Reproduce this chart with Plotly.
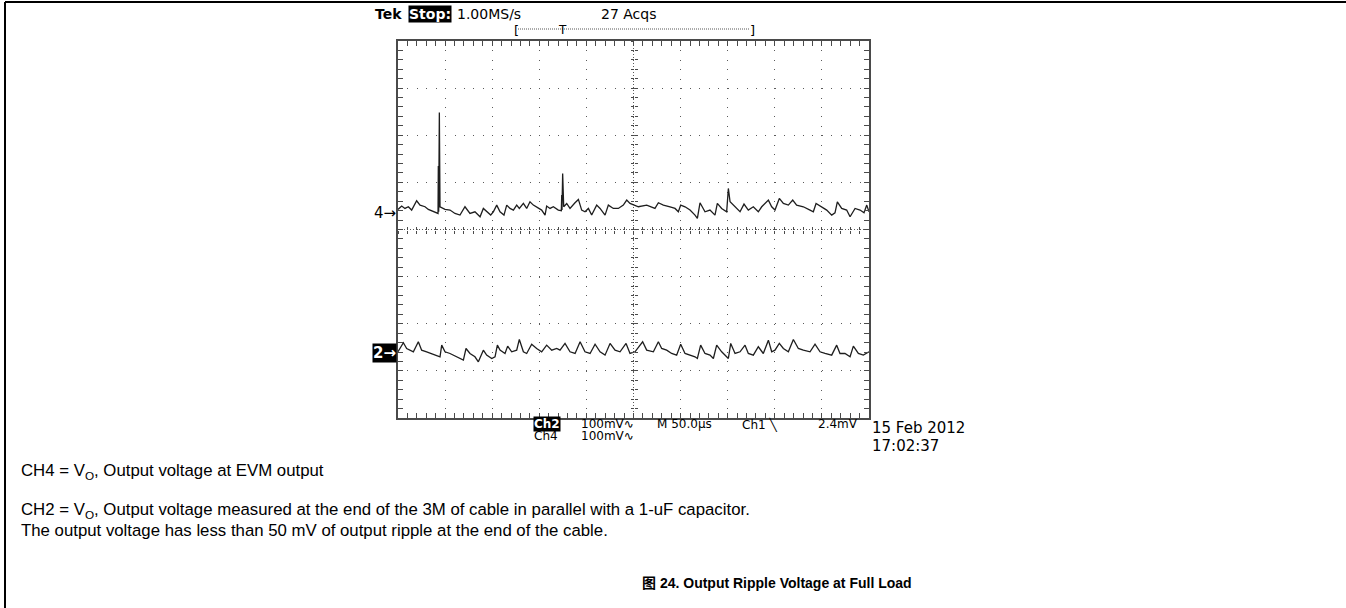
import plotly.graph_objects as go

# ---------------- data (time in µs, voltage in mV; 50 µs/div, 100 mV/div) ----------------
t_ch4 = [0.0, 3.9, 7.4, 11.0, 14.5, 19.8, 23.4, 28.7, 32.2, 35.8, 41.1, 42.5, 42.8, 43.2, 43.9, 44.6,
         49.9, 55.2, 60.5, 65.8, 71.1, 73.6, 76.4, 81.7, 87.1, 90.6, 94.1, 98.4, 101.2, 104.8, 108.3,
         112.5, 115.4, 118.9, 122.5, 126.0, 128.8, 133.1, 136.6, 140.1, 143.7, 147.2, 152.5, 156.1,
         157.8, 161.4, 164.9, 170.2, 173.4, 173.8, 174.1, 174.8, 175.9, 179.1, 182.6, 187.9, 191.5,
         195.0, 198.5, 202.1, 205.6, 210.9, 214.5, 219.8, 223.3, 228.6, 233.9, 239.2, 242.8, 246.3,
         249.9, 255.2, 264.0, 272.8, 276.4, 281.7, 288.8, 294.1, 297.6, 300.1, 304.7, 310.0, 315.3,
         317.8, 320.6, 325.9, 331.2, 336.5, 339.0, 343.6, 348.9, 350.7, 352.5, 357.8, 363.1, 367.3,
         371.9, 377.2, 382.5, 386.1, 393.2, 396.7, 400.2, 404.8, 409.1, 414.4, 419.0, 423.2, 430.3,
         437.4, 440.9, 443.8, 449.8, 455.1, 460.4, 463.9, 466.4, 471.0, 476.3, 479.9, 485.2, 490.5,
         494.7, 497.6, 500.0]
v_ch4 = [42.6, 49.7, 44.7, 48.3, 41.2, 61.0, 51.8, 48.3, 42.6, 39.8, 34.1, 34.1, 134.6, 37.6, 248.5, 48.3,
         42.6, 41.2, 34.1, 30.6, 48.3, 41.2, 34.1, 37.6, 27.0, 44.7, 37.6, 30.6, 37.6, 51.8, 37.6,
         30.6, 51.8, 44.7, 41.2, 51.8, 44.7, 55.3, 44.7, 58.9, 51.8, 48.3, 41.2, 30.6,
         49.7, 44.7, 48.3, 41.2, 39.8, 73.0, 41.2, 119.0, 48.3, 55.3, 44.7, 56.8, 63.8,
         41.2, 37.6, 44.7, 30.6, 51.8, 44.7, 30.6, 51.8, 44.7, 44.7, 51.8, 62.4, 55.3,
         51.8, 48.3, 51.8, 44.7, 56.7, 51.8, 48.2, 44.7, 37.6, 51.8, 48.2, 41.2, 30.5,
         23.5, 56.7, 37.6, 41.2, 30.5, 55.3, 44.7, 37.6, 87.1, 58.8, 48.2, 37.6, 53.9,
         41.2, 48.2, 37.6, 48.2, 62.4, 48.2, 41.2, 65.9, 55.3, 51.8, 62.4, 51.8, 48.2,
         41.2, 37.6, 55.3, 48.2, 41.2, 30.5, 35.5, 58.8, 44.7, 41.2, 27.0, 44.7, 41.2,
         35.5, 51.8, 37.6]

t_ch2 = [0.0, 5.7, 9.2, 12.7, 16.3, 21.6, 25.1, 30.4, 35.8, 41.1,
         44.6, 46.4, 49.9, 55.2, 62.3, 65.8, 69.4, 72.2, 76.4, 81.7,
         85.3, 90.6, 94.1, 99.5, 103.0, 105.5, 108.3, 113.6, 116.4, 120.7,
         126.0, 128.8, 133.1, 136.6, 141.9, 147.2, 152.5, 157.8, 163.2, 168.5,
         172.0, 177.3, 182.6, 188.0, 193.3, 198.5, 203.9, 209.2, 214.5, 219.8,
         225.1, 230.4, 235.7, 242.1, 246.3, 251.6, 259.7, 264.0, 271.1, 276.4,
         279.9, 285.2, 290.5, 295.8, 300.1, 304.7, 310.0, 315.3, 317.8, 321.3,
         325.9, 331.2, 334.8, 338.3, 343.6, 348.2, 350.7, 353.2, 357.8, 363.1,
         368.4, 371.9, 377.2, 382.5, 387.8, 393.2, 396.7, 400.2, 404.8, 409.1,
         414.4, 419.7, 425.0, 430.3, 437.4, 442.7, 448.0, 453.3, 460.4, 465.7,
         469.2, 474.5, 479.9, 483.4, 488.7, 494.0, 500.0]
v_ch2 = [-259.5, -240.4, -252.5, -256.0, -259.5, -238.3, -256.0, -259.5, -263.1, -266.6,
         -270.1, -245.4, -259.5, -263.1, -270.1, -273.7, -277.2, -252.5, -263.1, -270.1,
         -280.8, -256.0, -266.6, -273.7, -270.1, -245.4, -256.0, -263.1, -247.5, -259.5,
         -256.0, -233.3, -259.5, -263.1, -243.3, -252.5, -259.5, -245.4, -256.0, -252.5,
         -256.0, -241.8, -259.5, -263.1, -238.3, -259.5, -263.1, -243.3, -259.5, -266.6,
         -241.8, -256.0, -259.5, -241.8, -263.1, -259.5, -238.3, -256.0, -259.5, -238.3,
         -252.5, -256.0, -263.1, -266.6, -243.3, -263.1, -266.6, -270.1, -273.7, -245.4,
         -263.1, -266.6, -273.7, -245.4, -259.5, -270.1, -273.7, -241.8, -263.1, -259.5,
         -245.4, -263.1, -266.6, -248.9, -263.1, -234.8, -259.5, -256.0, -241.8, -252.5,
         -259.5, -233.3, -252.5, -256.0, -259.5, -243.3, -259.5, -263.1, -266.6, -245.4,
         -263.1, -263.1, -270.1, -247.5, -263.1, -266.6, -259.5]

time_range = [0, 500]      # 10 div x 50 µs
volt_range = [-400, 400]   # 8 div x 100 mV
time_div = 50
volt_div = 100

# scope readout texts
top_readout = ["Tek", "Stop:", "1.00MS/s", "27 Acqs"]
ch_readout = [("Ch2", "100mV\u223f"), ("Ch4", "100mV\u223f")]
timebase_txt = "M 50.0\u00b5s"
trigger_txt = "Ch1 \u2572"
trigger_lvl = "2.4mV"
date_txt = "15 Feb 2012"
time_txt = "17:02:37"
caption_lines = [
    "CH4 = V<sub>O</sub>, Output voltage at EVM output",
    "CH2 = V<sub>O</sub>, Output voltage measured at the end of the 3M of cable in parallel with a 1-uF capacitor.",
    "The output voltage has less than 50 mV of output ripple at the end of the cable.",
]
figure_title = "<b>图 24. Output Ripple Voltage at Full Load</b>"

# ---------------- layout geometry ----------------
W, H = 1346, 608
L, R, T, B = 398, 869, 41, 418


def px(x):
    return (x - L) / (R - L)


def py(y):
    return (B - y) / (B - T)


SCOPE_FONT = "DejaVu Sans"
DOC_FONT = "Liberation Sans, Arial, Noto Sans CJK SC"
TRACE = "#1e1e1e"
GRID = "#5a5a5a"
BORDER = "#4a4a4a"

fig = go.Figure()
fig.add_trace(go.Scatter(x=t_ch4, y=v_ch4, mode="lines", line=dict(color=TRACE, width=1.3),
                         hoverinfo="skip", showlegend=False))
fig.add_trace(go.Scatter(x=t_ch2, y=v_ch2, mode="lines", line=dict(color=TRACE, width=1.3),
                         hoverinfo="skip", showlegend=False))
# empty traces that bind the centre graticule axes
for xa, ya in [("x2", "y"), ("x3", "y"), ("x", "y2"), ("x", "y3")]:
    fig.add_trace(go.Scatter(x=[], y=[], xaxis=xa, yaxis=ya, showlegend=False, hoverinfo="skip"))

dot_dash = "1px,8.42px"
common = dict(showticklabels=False, zeroline=False, showline=True, linecolor=BORDER, linewidth=2,
              mirror="allticks", ticks="inside", ticklen=5, tickcolor=BORDER, tickwidth=1,
              showgrid=True, gridcolor=GRID, gridwidth=1, griddash=dot_dash)
fig.update_layout(
    width=W, height=H,
    margin=dict(l=L, r=W - R, t=T, b=H - B, pad=0),
    paper_bgcolor="white", plot_bgcolor="white",
    xaxis=dict(range=time_range, tick0=0, dtick=time_div,
               minor=dict(dtick=time_div / 5, ticks="inside", ticklen=3, tickcolor=BORDER, showgrid=False),
               **common),
    yaxis=dict(range=volt_range, tick0=0, dtick=volt_div,
               minor=dict(dtick=volt_div / 5, ticks="inside", ticklen=3, tickcolor=BORDER, showgrid=False),
               **common),
)
centre = dict(showticklabels=False, zeroline=False, showline=False, showgrid=False,
              ticklen=3, tickcolor=BORDER, tickwidth=1, anchor="free", position=0.5)
fig.update_layout(
    xaxis2=dict(overlaying="x", range=time_range, tick0=0, dtick=time_div / 5, ticks="inside", **centre),
    xaxis3=dict(overlaying="x", range=time_range, tick0=0, dtick=time_div / 5, ticks="outside", **centre),
    yaxis2=dict(overlaying="y", range=volt_range, tick0=0, dtick=volt_div / 5, ticks="inside", **centre),
    yaxis3=dict(overlaying="y", range=volt_range, tick0=0, dtick=volt_div / 5, ticks="outside", **centre),
)

# centre graticule lines
fig.add_shape(type="line", xref="x domain", yref="y", x0=0, x1=1, y0=0, y1=0,
              line=dict(color=GRID, width=1, dash="1px,2px"), layer="below")
fig.add_shape(type="line", xref="x", yref="y domain", x0=sum(time_range) / 2, x1=sum(time_range) / 2,
              y0=0, y1=1, line=dict(color=GRID, width=1, dash="1px,2px"), layer="below")

# page frame (top and left rule)
fig.add_shape(type="line", xref="paper", yref="paper", x0=px(5), x1=px(W), y0=py(2), y1=py(2),
              line=dict(color="black", width=2))
fig.add_shape(type="line", xref="paper", yref="paper", x0=px(5), x1=px(5), y0=py(2), y1=py(H),
              line=dict(color="black", width=2))

# record-view bracket
fig.add_shape(type="line", xref="paper", yref="paper", x0=px(518), x1=px(750), y0=py(29), y1=py(29),
              line=dict(color="#555", width=1, dash="1px,1px"))


def note(text, x, y, xanchor="left", size=13, color="black", bg=None, family=SCOPE_FONT, weight=None):
    fnt = dict(family=family, size=size, color=color)
    if weight:
        fnt["weight"] = weight
    fig.add_annotation(text=text, x=px(x), y=py(y), xref="paper", yref="paper",
                       xanchor=xanchor, yanchor="middle", showarrow=False, font=fnt,
                       bgcolor=bg, borderpad=0)


# top readout
note(top_readout[0], 374, 14, size=14, weight="bold")
note(top_readout[1], 408, 14, size=14, color="white", bg="black", weight="bold")
note(top_readout[2], 456, 14, size=14)
note(top_readout[3], 600, 14, size=14)
note("[", 516, 31, xanchor="center", size=13)
note("]", 752, 31, xanchor="center", size=13)
note("T", 562, 30, xanchor="center", size=12)

# channel markers
note("4\u2192", 397, 213, xanchor="right", size=15)
note("2\u2192", 397, 353, xanchor="right", size=15, color="white", bg="black", weight="bold")

# bottom readout
row1, row2 = 424, 436
note(ch_readout[0][0], 533, row1, size=12, color="white", bg="black", weight="bold")
note(ch_readout[0][1], 580, row1, size=12)
note(ch_readout[1][0], 533, row2, size=12)
note(ch_readout[1][1], 580, row2, size=12)
note(timebase_txt, 656, row1, size=12)
note(trigger_txt, 741, row1, size=12)
note(trigger_lvl, 817, row1, size=12)
note(date_txt, 871, 428, size=15)
note(time_txt, 871, 446, size=15)

# document text
note(caption_lines[0], 20, 471, size=16.8, family=DOC_FONT)
note(caption_lines[1], 20, 511, size=16.8, family=DOC_FONT)
note(caption_lines[2], 20, 530, size=16.8, family=DOC_FONT)
note(figure_title, 777, 583, xanchor="center", size=14, family=DOC_FONT)

fig.write_html("out.html", config={"displayModeBar": False},
               post_script="document.body.style.margin='0px';")
